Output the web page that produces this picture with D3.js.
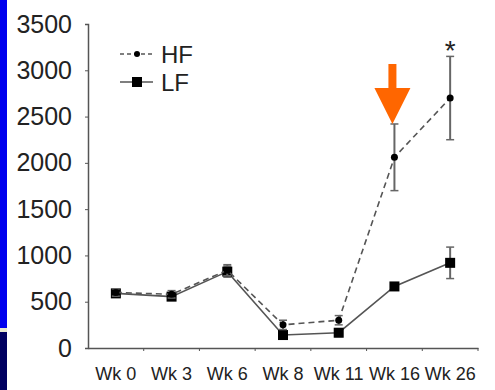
<!DOCTYPE html>
<html>
<head>
<meta charset="utf-8">
<script src="https://cdn.jsdelivr.net/npm/d3@7"></script>
<style>
  body { margin: 0; background: #fff; }
  svg { display: block; font-family: "Liberation Sans", Arial, sans-serif; }
</style>
</head>
<body>
<div id="chart"></div>
<script>
// data
const weeks = ["Wk 0", "Wk 3", "Wk 6", "Wk 8", "Wk 11", "Wk 16", "Wk 26"];
const hfMean = [600, 580, 840, 250, 300, 2060, 2700];
const hfErr  = [40, 40, 60, 50, 50, 360, 450];
const lfMean = [590, 555, 825, 140, 165, 665, 920];
const lfErr  = [40, 40, 60, 40, 40, 40, 170];
const yTicks = [0, 500, 1000, 1500, 2000, 2500, 3000, 3500];

const width = 495, height = 390;
const margin = { left: 88, right: 17, top: 24, bottom: 42 };

const svg = d3.select('#chart').append('svg')
    .attr('width', width)
    .attr('height', height);

// slide decoration on the left edge
svg.append('rect').attr('x', 0).attr('y', 0).attr('width', 7).attr('height', 328).attr('fill', '#0000ee');
svg.append('rect').attr('x', 0).attr('y', 328).attr('width', 7).attr('height', 4).attr('fill', '#e8e8d0');
svg.append('rect').attr('x', 0).attr('y', 332).attr('width', 7).attr('height', 58).attr('fill', '#000060');

const x = d3.scaleBand()
    .domain(weeks)
    .range([margin.left, width - margin.right]);

const y = d3.scaleLinear()
    .domain([0, 3500])
    .range([height - margin.bottom, margin.top]);

const axisColor = '#555';

// y axis
const gy = svg.append('g')
    .attr('transform', 'translate(' + margin.left + ',0)')
    .call(d3.axisLeft(y).tickValues(yTicks).tickFormat(d3.format('d')).tickSize(3).tickPadding(13));
gy.select('.domain').attr('stroke', axisColor).attr('stroke-width', 1.5);
gy.selectAll('.tick line').attr('stroke', axisColor);
gy.selectAll('.tick text')
    .attr('fill', '#222')
    .style('font-size', '25px');

// x axis (ticks on category boundaries)
const gx = svg.append('g')
    .attr('transform', 'translate(0,' + y(0) + ')')
    .call(d3.axisBottom(x).tickSize(0).tickPadding(19));
gx.select('.domain').attr('stroke', axisColor).attr('stroke-width', 1.5);
gx.selectAll('.tick text')
    .attr('fill', '#222')
    .style('font-size', '18px');
gx.selectAll('.bound')
    .data(weeks)
    .enter().append('line')
    .attr('x1', d => x(d) + x.bandwidth())
    .attr('x2', d => x(d) + x.bandwidth())
    .attr('y1', 0).attr('y2', 3)
    .attr('stroke', axisColor);

const cx = (d, i) => x(weeks[i]) + x.bandwidth() / 2;

function series(mean, err, dash, lineColor) {
  const g = svg.append('g');
  const line = d3.line()
      .x((d, i) => cx(d, i))
      .y(d => y(d));
  g.append('path')
      .datum(mean)
      .attr('d', line)
      .attr('fill', 'none')
      .attr('stroke', lineColor)
      .attr('stroke-width', 1.6)
      .attr('stroke-dasharray', dash);
  const eb = g.selectAll('.err')
      .data(mean)
      .enter().append('g');
  eb.append('line')
      .attr('x1', cx).attr('x2', cx)
      .attr('y1', (d, i) => y(d + err[i]))
      .attr('y2', (d, i) => y(d - err[i]))
      .attr('stroke', '#666').attr('stroke-width', 2);
  [1, -1].forEach(s => {
    eb.append('line')
        .attr('x1', (d, i) => cx(d, i) - 4)
        .attr('x2', (d, i) => cx(d, i) + 4)
        .attr('y1', (d, i) => y(d + s * err[i]))
        .attr('y2', (d, i) => y(d + s * err[i]))
        .attr('stroke', '#666').attr('stroke-width', 1.5);
  });
  return g;
}

const lf = series(lfMean, lfErr, null, '#555');
const hf = series(hfMean, hfErr, '6,4', '#555');

lf.selectAll('.m')
    .data(lfMean)
    .enter().append('rect')
    .attr('x', (d, i) => cx(d, i) - 5)
    .attr('y', d => y(d) - 5)
    .attr('width', 10).attr('height', 10)
    .attr('fill', '#000');

hf.selectAll('.m')
    .data(hfMean)
    .enter().append('circle')
    .attr('cx', cx)
    .attr('cy', d => y(d))
    .attr('r', 3.5)
    .attr('fill', '#000');

// significance star
svg.append('text')
    .attr('x', cx(0, 6))
    .attr('y', 60)
    .attr('text-anchor', 'middle')
    .attr('fill', '#222')
    .style('font-size', '28px')
    .text('*');

// legend
const lg = svg.append('g');
lg.append('line').attr('x1', 120).attr('x2', 153).attr('y1', 54).attr('y2', 54)
    .attr('stroke', '#555').attr('stroke-width', 1.5).attr('stroke-dasharray', '4,3');
lg.append('circle').attr('cx', 137).attr('cy', 54).attr('r', 3).attr('fill', '#000');
lg.append('text').attr('x', 161).attr('y', 63).style('font-size', '24px').attr('fill', '#222').text('HF');
lg.append('line').attr('x1', 120).attr('x2', 153).attr('y1', 82).attr('y2', 82)
    .attr('stroke', '#555').attr('stroke-width', 1.5);
lg.append('rect').attr('x', 132).attr('y', 77).attr('width', 10).attr('height', 10).attr('fill', '#000');
lg.append('text').attr('x', 161).attr('y', 91).style('font-size', '24px').attr('fill', '#222').text('LF');

// orange arrow pointing at Wk 16
const ax = cx(0, 5) - 2;
svg.append('path')
    .attr('d', 'M' + (ax - 4) + ',64 L' + (ax + 4) + ',64 L' + (ax + 4) + ',88 L' + (ax + 18) + ',88 L' + ax + ',124 L' + (ax - 18) + ',88 L' + (ax - 4) + ',88 Z')
    .attr('fill', '#ff6600');
</script>
</body>
</html>
